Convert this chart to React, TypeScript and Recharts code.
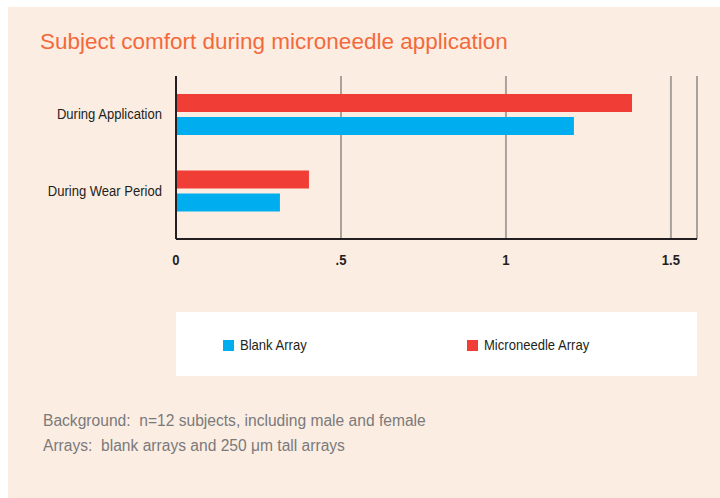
import { Bar, BarChart, CartesianGrid, XAxis, YAxis } from "recharts";

// Subject comfort during microneedle application — horizontal grouped bars.
const categories = ["During Application", "During Wear Period"];
const microneedleValues = [1.382, 0.403];
const blankValues = [1.206, 0.315];
const xTicks = [0, 0.5, 1, 1.5];
const xTickLabels = ["0", ".5", "1", "1.5"];
const xMax = 1.579;

const COLOR = {
  blank: "#00aeef",
  microneedle: "#f03e37",
  panel: "#fcede3",
  title: "#f26a3b",
  ink: "#231f20",
  grid: "#a9a19c",
  note: "#7a7a7a",
};

const SANS = '"Liberation Sans", Arial, sans-serif';
// Helvetica Condensed look-alike: Liberation Sans squeezed horizontally.
const SQUEEZE = 0.87;

const data = categories.map((name, i) => ({
  name,
  microneedle: microneedleValues[i],
  blank: blankValues[i],
}));

const legendItems = [
  { key: "blank", label: "Blank Array", color: COLOR.blank, left: 47 },
  { key: "microneedle", label: "Microneedle Array", color: COLOR.microneedle, left: 291 },
];

function CondensedTick(props: any) {
  const { x, y, payload, textAnchor, bold, dy } = props;
  const label = props.tickFormatter ? props.tickFormatter(payload.value, payload.index) : payload.value;
  return (
    <g transform={`translate(${x},${y}) scale(${SQUEEZE},1)`}>
      <text
        x={0}
        y={0}
        dy={dy}
        textAnchor={textAnchor}
        fill={COLOR.ink}
        fontFamily={SANS}
        fontSize={15}
        fontWeight={bold ? 700 : 400}
      >
        {label}
      </text>
    </g>
  );
}

export default function App() {
  return (
    <div
      style={{
        position: "absolute",
        left: 8,
        top: 7,
        width: 712,
        height: 491,
        background: COLOR.panel,
        overflow: "hidden",
      }}
    >
      <div
        style={{
          position: "absolute",
          left: 32,
          top: 21,
          fontFamily: SANS,
          fontSize: 22.5,
          lineHeight: "28px",
          color: COLOR.title,
          whiteSpace: "nowrap",
        }}
      >
        Subject comfort during microneedle application
      </div>

      <div style={{ position: "absolute", left: 0, top: 0 }}>
        <BarChart
          width={712}
          height={280}
          data={data}
          layout="vertical"
          margin={{ top: 69, right: 23, bottom: 0, left: 0 }}
          barSize={18}
          barGap={5}
        >
          <CartesianGrid horizontal={false} stroke={COLOR.grid} strokeWidth={2} />
          <XAxis
            type="number"
            domain={[0, xMax]}
            ticks={xTicks}
            tickFormatter={(v) => xTickLabels[xTicks.indexOf(v)] ?? String(v)}
            axisLine={{ stroke: COLOR.ink, strokeWidth: 2 }}
            tickLine={false}
            tickSize={6}
            tickMargin={8}
            height={48}
            tick={(p: any) => <CondensedTick {...p} bold dy={12} />}
            allowDataOverflow
          />
          <YAxis
            type="category"
            dataKey="name"
            width={168}
            padding={{ top: 0, bottom: 10 }}
            axisLine={{ stroke: COLOR.ink, strokeWidth: 2 }}
            tickLine={false}
            tickSize={6}
            tickMargin={8}
            tick={(p: any) => <CondensedTick {...p} dy={5} />}
          />
          <Bar dataKey="microneedle" name="Microneedle Array" fill={COLOR.microneedle} isAnimationActive={false} />
          <Bar dataKey="blank" name="Blank Array" fill={COLOR.blank} isAnimationActive={false} />
        </BarChart>
      </div>

      {/* Legend box */}
      <div
        style={{
          position: "absolute",
          left: 168,
          top: 305,
          width: 521,
          height: 64,
          background: "#ffffff",
        }}
      >
        {legendItems.map((item) => (
          <div
            key={item.key}
            style={{
              position: "absolute",
              left: item.left,
              top: 24,
              display: "flex",
              alignItems: "center",
              gap: 6,
              fontFamily: SANS,
              fontSize: 15,
              color: COLOR.ink,
              whiteSpace: "nowrap",
            }}
          >
            <span style={{ width: 11, height: 11, background: item.color, display: "inline-block" }} />
            <span
              style={{
                lineHeight: "18px",
                display: "inline-block",
                transform: `scaleX(${SQUEEZE})`,
                transformOrigin: "left center",
              }}
            >
              {item.label}
            </span>
          </div>
        ))}
      </div>

      <div
        style={{
          position: "absolute",
          left: 35,
          top: 401,
          fontFamily: SANS,
          fontSize: 15.6,
          lineHeight: "25px",
          color: COLOR.note,
          whiteSpace: "pre",
        }}
      >
        <div>{"Background:  n=12 subjects, including male and female"}</div>
        <div>{"Arrays:  blank arrays and 250 μm tall arrays"}</div>
      </div>
    </div>
  );
}
